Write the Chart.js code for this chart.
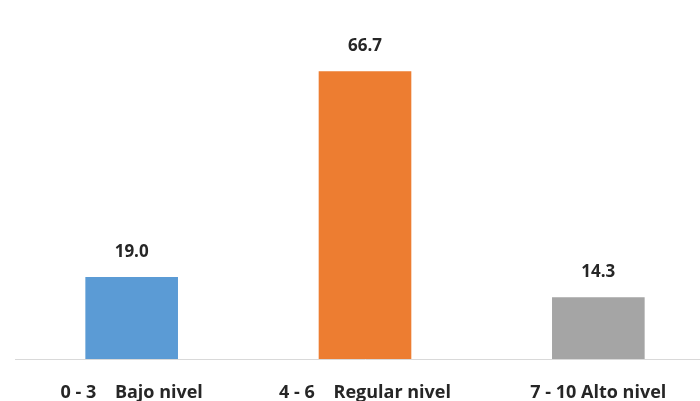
<!DOCTYPE html>
<html>
<head>
<meta charset="utf-8">
<script src="https://cdn.jsdelivr.net/npm/chart.js@4/dist/chart.umd.min.js"></script>
<style>
  html, body { margin: 0; padding: 0; background: #fff; overflow: hidden; }
  #wrap { width: 715px; height: 401px; }
</style>
</head>
<body>
<div id="wrap"><canvas id="grafico" width="715" height="401"></canvas></div>
<script>
// datos del gráfico
const categorias = ["0 - 3    Bajo nivel", "4 - 6    Regular nivel", "7 - 10 Alto nivel"];
const valores = [19.0, 66.7, 14.3];
const colores = ["#5b9bd5", "#ed7d31", "#a5a5a5"];

// etiquetas encima de las barras
const etiquetas = {
  id: "etiquetas",
  afterDatasetsDraw(chart) {
    const ctx = chart.ctx;
    const meta = chart.getDatasetMeta(0);
    ctx.save();
    ctx.font = "bold 17px 'Open Sans'";
    ctx.fillStyle = "#262626";
    ctx.textAlign = "center";
    ctx.textBaseline = "alphabetic";
    meta.data.forEach((bar, i) => {
      ctx.fillText(valores[i].toFixed(1), bar.x, bar.y - 20);
    });
    ctx.restore();
  }
};

new Chart(document.getElementById("grafico"), {
  type: "bar",
  data: {
    labels: categorias,
    datasets: [{
      data: valores,
      backgroundColor: colores,
      barPercentage: 1,
      categoryPercentage: 0.397
    }]
  },
  options: {
    responsive: false,
    animation: false,
    layout: { padding: { top: 14, left: 15, right: 0, bottom: 0 } },
    plugins: { legend: { display: false }, tooltip: { enabled: false } },
    scales: {
      y: { display: false, min: 0, max: 80 },
      x: {
        afterFit(scale) { scale.height = 42; },
        grid: { display: false, drawTicks: false },
        border: { color: "#d9d9d9", width: 1 },
        ticks: {
          color: "#262626",
          padding: 23,
          font: { family: "Open Sans", size: 18, weight: "bold" }
        }
      }
    }
  },
  plugins: [etiquetas]
});
</script>
</body>
</html>
